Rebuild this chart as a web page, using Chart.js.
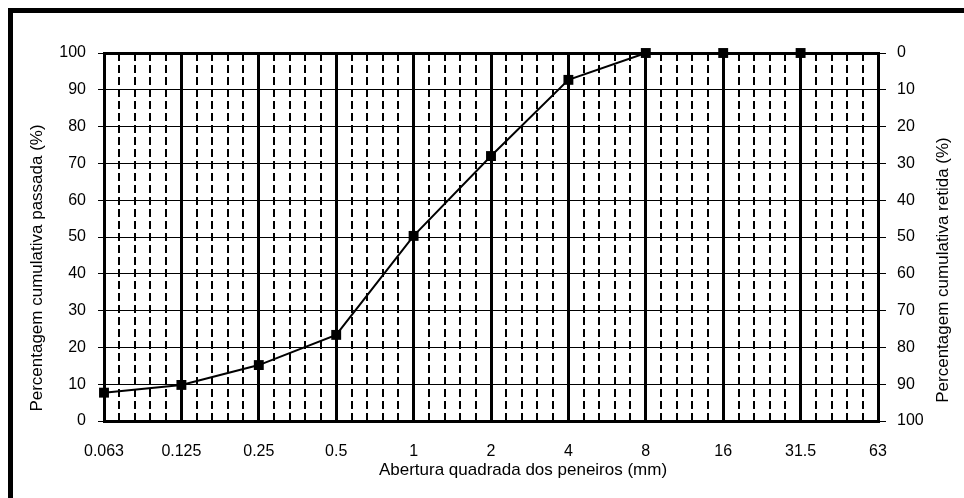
<!DOCTYPE html>
<html>
<head>
<meta charset="utf-8">
<script src="https://cdn.jsdelivr.net/npm/chart.js@4/dist/chart.umd.min.js"></script>
<style>
  html, body { margin: 0; padding: 0; background: #fff; }
  #wrap { width: 964px; height: 498px; position: relative; }
</style>
</head>
<body>
<div id="wrap"><canvas id="curve" width="964" height="498"></canvas></div>
<script>
// ─── data ───
const sieveLabels = ['0.063', '0.125', '0.25', '0.5', '1', '2', '4', '8', '16', '31.5', '63'];
const passing = [7.7, 9.8, 15.2, 23.4, 50.3, 72.0, 92.7, 100, 100, 100];
const yTicks = [0, 10, 20, 30, 40, 50, 60, 70, 80, 90, 100];

const FONT = '"Liberation Sans", Arial, sans-serif';

// ─── frame + titles drawn around the chart ───
const decor = {
    id: 'decor',
    beforeDraw(chart) {
        const c = chart.ctx;
        c.save();
        c.fillStyle = '#fff';
        c.fillRect(0, 0, chart.width, chart.height);
        c.fillStyle = '#000';
        c.fillRect(8, 8, 5, chart.height);
        c.fillRect(8, 8, chart.width, 5);
        c.restore();
    },
    afterDraw(chart) {
        const c = chart.ctx;
        const a = chart.chartArea;
        c.save();
        c.fillStyle = '#000';
        c.font = '17px ' + FONT;
        c.textAlign = 'center';
        c.textBaseline = 'middle';
        c.fillText('Abertura quadrada dos peneiros (mm)', (a.left + a.right) / 2 + 32, a.bottom + 49);

        c.save();
        c.translate(37, (a.top + a.bottom) / 2 + 31);
        c.rotate(-Math.PI / 2);
        c.fillText('Percentagem cumulativa passada (%)', 0, 0);
        c.restore();

        c.save();
        c.translate(943, (a.top + a.bottom) / 2 + 33);
        c.rotate(-Math.PI / 2);
        c.fillText('Percentagem cumulativa retida (%)', 0, 0);
        c.restore();
        c.restore();
    }
};

const isMajor = c => c.index !== undefined && c.index % 5 === 0;

new Chart(document.getElementById('curve'), {
    type: 'line',
    data: {
        datasets: [{
            data: passing.map((v, i) => ({ x: i, y: v })),
            borderColor: '#000',
            backgroundColor: '#000',
            borderWidth: 2,
            pointStyle: 'rect',
            pointRadius: 7,
            pointBorderWidth: 0,
            tension: 0,
            clip: false
        }]
    },
    options: {
        responsive: false,
        animation: false,
        events: [],
        layout: { padding: { top: 53, left: 0, right: 0, bottom: 0 }, autoPadding: false },
        plugins: { legend: { display: false }, tooltip: { enabled: false } },
        scales: {
            x: {
                type: 'linear',
                min: 0,
                max: sieveLabels.length - 1,
                afterBuildTicks: s => {
                    s.ticks = [];
                    for (let i = 0; i <= (sieveLabels.length - 1) * 5; i++) s.ticks.push({ value: i / 5 });
                },
                afterFit: s => { s.height = 77; },
                grid: {
                    color: '#000',
                    lineWidth: c => isMajor(c) ? 3 : 2,
                    drawTicks: false
                },
                border: {
                    display: true,
                    color: '#000',
                    width: 3,
                    dash: c => (c.index !== undefined && c.index % 5 !== 0) ? [8, 4] : []
                },
                ticks: {
                    autoSkip: false,
                    maxRotation: 0,
                    padding: 21,
                    color: '#000',
                    font: { family: FONT, size: 16 },
                    callback: (v, i) => i % 5 === 0 ? sieveLabels[i / 5] : ''
                }
            },
            y: {
                position: 'left',
                min: 0,
                max: 100,
                afterBuildTicks: s => {
                    s.ticks = [];
                    for (let v = 0; v <= 100; v += 5) s.ticks.push({ value: v });
                },
                afterFit: s => { s.width = 104; },
                grid: {
                    color: c => (c.index % 2 === 0) ? '#000' : '#444',
                    lineWidth: c => (c.index === 20) ? 3 : 1,
                    tickLength: 6,
                    tickColor: c => (c.index % 2 === 0) ? '#000' : 'rgba(0,0,0,0)',
                    tickWidth: 1
                },
                border: {
                    display: true,
                    color: '#000',
                    width: 3,
                    dash: c => (c.index !== undefined && c.index % 2 === 1) ? [3, 2] : []
                },
                ticks: {
                    padding: 12,
                    color: '#000',
                    font: { family: FONT, size: 16 },
                    callback: v => yTicks.includes(v) ? String(v) : ''
                }
            },
            y2: {
                position: 'right',
                reverse: true,
                min: 0,
                max: 100,
                afterBuildTicks: s => { s.ticks = yTicks.map(v => ({ value: v })); },
                afterFit: s => { s.width = 86; },
                grid: {
                    drawOnChartArea: false,
                    tickLength: 8,
                    tickColor: '#000',
                    tickWidth: 1
                },
                border: { display: true, color: '#000', width: 3 },
                ticks: {
                    padding: 11,
                    color: '#000',
                    font: { family: FONT, size: 16 },
                    callback: v => String(v)
                }
            }
        }
    },
    plugins: [decor]
});
</script>
</body>
</html>
